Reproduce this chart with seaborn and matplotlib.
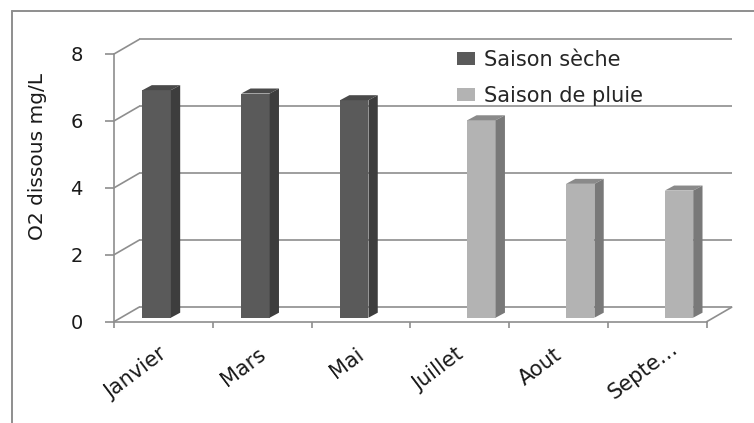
import numpy as np
import pandas as pd
import matplotlib
matplotlib.use("Agg")
import matplotlib.pyplot as plt
import seaborn as sns
from matplotlib.transforms import ScaledTranslation
from matplotlib.patches import Polygon
from matplotlib.lines import Line2D

# --- data -------------------------------------------------------------
mois = ["Janvier", "Mars", "Mai", "Juillet", "Aout", "Septe…"]
saison = ["Saison sèche", "Saison sèche", "Saison sèche",
          "Saison de pluie", "Saison de pluie", "Saison de pluie"]
o2 = [6.8, 6.7, 6.5, 5.9, 4.0, 3.8]
saisons = ["Saison sèche", "Saison de pluie"]
yticks = [0, 2, 4, 6, 8]
ylabel = "O2 dissous mg/L"

df = pd.DataFrame({"mois": mois, "saison": saison, "o2": o2})

# --- style ------------------------------------------------------------
sns.set_theme(style="white")
plt.rcParams["font.family"] = ["DejaVu Sans"]

GRID = "#8e8e8e"
TXT = "#1a1a1a"
face = {"Saison sèche": "#5a5a5a", "Saison de pluie": "#b3b3b3"}
side = {"Saison sèche": "#3d3d3d", "Saison de pluie": "#797979"}
topc = {"Saison sèche": "#4a4a4a", "Saison de pluie": "#8a8a8a"}

W, H, DPI = 754, 423, 100
fig = plt.figure(figsize=(W / DPI, H / DPI), dpi=DPI)
fig.patch.set_facecolor("white")

# axes = front plane of the pseudo-3D box
ax_l, ax_b, ax_w, ax_h = 114, 321.7, 592.7, 267.7
ax = fig.add_axes([ax_l / W, 1 - ax_b / H, ax_w / W, ax_h / H])
ax.set_facecolor("none")

sns.barplot(data=df, x="mois", y="o2", hue="saison", order=mois,
            hue_order=saisons, palette=face, width=0.575, dodge=True,
            saturation=1, errorbar=None, linewidth=0, ax=ax)

ax.set_xlim(-0.5, 5.5)
ax.set_ylim(0, 8)

# pixel size of one data unit
ux = ax_w / 6.0
uy = ax_h / 8.0

def shifted(dx_px, dy_px):
    return ax.transData + ScaledTranslation(dx_px / DPI, dy_px / DPI,
                                            fig.dpi_scale_trans)

# back wall and side wall lines
wx, wy = 25 / ux, 14.5 / uy
for v in yticks:
    ax.plot([-0.5 + wx, 5.5 + wx], [v + wy, v + wy], color=GRID, lw=1.2,
            clip_on=False, zorder=0.5, solid_capstyle="butt")
    ax.plot([-0.5, -0.5 + wx], [v, v + wy], color=GRID, lw=1.2,
            clip_on=False, zorder=0.5)
ax.plot([5.5, 5.5 + wx], [0, wy], color=GRID, lw=1.2, clip_on=False,
        zorder=0.5)

# bars sit slightly behind the front plane, with top and side faces
bar_tr = shifted(7.5, 4.0)
ddx, ddy = 9.3 / ux, 5.0 / uy
for name, cont in zip(saisons, ax.containers):
    for r in cont:
        r.set_transform(bar_tr)
        r.set_clip_on(False)
        r.set_zorder(2)
        x0, w, h = r.get_x(), r.get_width(), r.get_height()
        if not np.isfinite(h) or h == 0:
            continue
        top = Polygon([(x0, h), (x0 + w, h), (x0 + w + ddx, h + ddy),
                       (x0 + ddx, h + ddy)], closed=True,
                      facecolor=topc[name], lw=0, transform=bar_tr,
                      clip_on=False, zorder=2)
        sd = Polygon([(x0 + w, 0), (x0 + w + ddx, ddy),
                      (x0 + w + ddx, h + ddy), (x0 + w, h)], closed=True,
                     facecolor=side[name], lw=0, transform=bar_tr,
                     clip_on=False, zorder=2)
        ax.add_patch(top)
        ax.add_patch(sd)

# axes lines and ticks
for s in ["top", "right"]:
    ax.spines[s].set_visible(False)
for s in ["left", "bottom"]:
    ax.spines[s].set_color(GRID)
    ax.spines[s].set_linewidth(1.2)
    ax.spines[s].set_zorder(3)

ax.set_yticks(yticks)
ax.set_yticklabels([str(v) for v in yticks])
ax.tick_params(axis="y", which="major", left=True, direction="out",
               length=6.5, width=1.2, color=GRID, pad=16,
               labelsize=14, labelcolor=TXT)

ax.set_xticks(range(len(mois)))
ax.set_xticklabels(mois)
ax.set_xticks(np.arange(-0.5, len(mois), 1.0), minor=True)
ax.tick_params(axis="x", which="major", bottom=True, length=0, pad=22,
               labelsize=15, labelcolor=TXT)
ax.tick_params(axis="x", which="minor", bottom=True, direction="out",
               length=4.3, width=1.2, color=GRID)
for i, lab in enumerate(ax.get_xticklabels()):
    lab.set_rotation(37)
    lab.set_ha("right")
    lab.set_va("center")
    lab.set_rotation_mode("anchor")
    dx, dy = (1, 0) if i < len(mois) - 1 else (18, 6)
    lab.set_transform(lab.get_transform() +
                      ScaledTranslation(dx / DPI, dy / DPI,
                                        fig.dpi_scale_trans))

ax.set_xlabel("")
ax.set_ylabel(ylabel, fontsize=14.5, color=TXT)
ax.yaxis.set_label_coords((47 - ax_l) / ax_w, (ax_b - 157) / ax_h)

sns.move_legend(ax, "upper left", bbox_to_anchor=(457 / W, 1 - 50 / H),
                bbox_transform=fig.transFigure, frameon=False, title=None,
                fontsize=15, handlelength=0.88, handleheight=0.58,
                handletextpad=0.4, labelspacing=0.78, borderpad=0,
                borderaxespad=0)

# chart border (left and top edges)
fig.add_artist(Line2D([12 / W, 12 / W], [0, 1 - 11 / H],
                      transform=fig.transFigure, color=GRID, lw=1.4))
fig.add_artist(Line2D([12 / W, 1], [1 - 11 / H, 1 - 11 / H],
                      transform=fig.transFigure, color=GRID, lw=1.4))

fig.savefig("out.png", dpi=DPI)
